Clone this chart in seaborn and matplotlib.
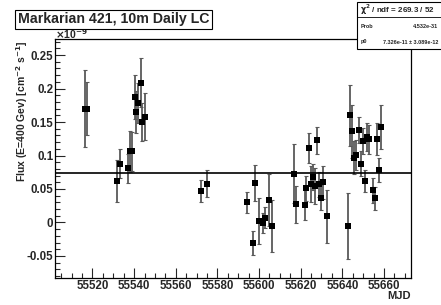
import numpy as np
import pandas as pd
import seaborn as sns
import matplotlib.pyplot as plt
from matplotlib.patches import Rectangle
from matplotlib.ticker import MultipleLocator

# light curve (flux in units of 1e-9 cm^-2 s^-1)
mjd = [55516.4, 55517.2, 55532.0, 55533.1, 55537.1, 55538.1, 55539.0, 55540.2, 55541.1, 55542.1,
       55543.1, 55544.0, 55545.1,
       55572.0, 55575.1,
       55594.0, 55597.0, 55598.0, 55599.9, 55602.0, 55603.0, 55604.9, 55606.0,
       55616.9, 55617.8, 55621.9, 55622.8, 55623.9, 55624.9, 55625.8, 55626.8, 55627.8, 55628.7,
       55629.7, 55630.8, 55632.7,
       55642.8, 55643.8, 55644.7, 55645.7, 55646.7, 55647.8, 55648.8, 55649.7, 55650.9, 55651.8,
       55652.8, 55654.8, 55655.8, 55656.8, 55657.7, 55658.7]
flux = [0.170, 0.170, 0.062, 0.088, 0.081, 0.106, 0.106, 0.187, 0.165, 0.179,
        0.209, 0.150, 0.158,
        0.047, 0.058,
        0.030, -0.031, 0.059, 0.002, -0.001, 0.007, 0.034, -0.005,
        0.073, 0.027, 0.026, 0.051, 0.111, 0.057, 0.068, 0.055, 0.123, 0.057,
        0.037, 0.060, 0.009,
        -0.005, 0.160, 0.136, 0.097, 0.101, 0.138, 0.088, 0.122, 0.062, 0.127,
        0.124, 0.048, 0.036, 0.125, 0.078, 0.142]
err = [0.058, 0.040, 0.031, 0.021, 0.022, 0.030, 0.029, 0.033, 0.031, 0.030,
       0.036, 0.029, 0.035,
       0.017, 0.020,
       0.016, 0.018, 0.027, 0.034, 0.015, 0.016, 0.039, 0.039,
       0.044, 0.028, 0.023, 0.019, 0.022, 0.027, 0.019, 0.027, 0.020, 0.019,
       0.019, 0.025, 0.040,
       0.049, 0.046, 0.039, 0.024, 0.022, 0.019, 0.018, 0.019, 0.017, 0.021,
       0.021, 0.019, 0.017, 0.024, 0.018, 0.033]

p0 = 0.07326  # constant fit

if __name__ == '__main__':
  sns.set_style('white')
  plt.rcParams['font.family'] = ['Liberation Sans', 'DejaVu Sans']
  plt.rcParams['font.weight'] = 'bold'
  plt.rcParams['mathtext.default'] = 'bf'

  data = pd.DataFrame(dict(mjd=mjd, flux=flux, err=err))

  fig = plt.figure(figsize=(4.41, 3.05), dpi=100)
  ax = fig.add_axes([0.1247, 0.0885, 0.8073, 0.7835])

  ax.errorbar(data.mjd, data.flux, yerr=data.err, fmt='none', ecolor='0.35',
              elinewidth=1.3, capsize=1.2, capthick=0.8)
  sns.scatterplot(data=data, x='mjd', y='flux', marker='s', color='black',
                  s=13, linewidth=0, ax=ax, zorder=3)
  ax.axhline(p0, color='black', lw=1.2, zorder=4)

  ax.set_xlim(55502, 55673)
  ax.set_ylim(-0.083, 0.274)
  ax.xaxis.set_major_locator(MultipleLocator(20))
  ax.xaxis.set_minor_locator(MultipleLocator(5))
  ax.yaxis.set_major_locator(MultipleLocator(0.05))
  ax.yaxis.set_minor_locator(MultipleLocator(0.01))
  ax.yaxis.set_major_formatter(plt.FuncFormatter(lambda v, p: ('%g' % round(v, 3))))
  ax.tick_params(which='major', direction='in', length=7, width=0.8, labelsize=8.3,
                 bottom=True, left=True, top=False, right=False, pad=1.2)
  ax.tick_params(which='minor', direction='in', length=3.5, width=0.8,
                 bottom=True, left=True, top=False, right=False)
  for sp in ax.spines.values():
    sp.set_color('black')
    sp.set_linewidth(0.9)
  ax.set_xlabel('')
  ax.set_ylabel('')

  fig.text(411 / 441, 1 - 296 / 305, 'MJD', ha='right', va='center', fontsize=8, fontweight='bold')
  fig.text(22 / 441, 1 - 40 / 305, r'Flux (E=400 Gev) [cm$^{-2}$ s$^{-1}$]', rotation=90,
           ha='center', va='top', fontsize=7.5, fontweight='bold')
  fig.text(55 / 441, 1 - 34 / 305, r'$\times$10$^{-9}$', ha='left', va='center',
           fontsize=7.5, fontweight='bold')

  fig.text(18 / 441, 1 - 19.5 / 305, 'Markarian 421, 10m Daily LC', ha='left', va='center',
           fontsize=10.2, fontweight='bold',
           bbox=dict(boxstyle='square,pad=0.2', fc='white', ec='black', lw=0.8))

  # stats box
  fig.add_artist(Rectangle((357 / 441, 1 - 49 / 305), 0.3, 47 / 305, transform=fig.transFigure,
                           fc='white', ec='black', lw=0.8, zorder=5))
  fig.add_artist(plt.Line2D([357 / 441, 1], [1 - 17 / 305] * 2, transform=fig.transFigure,
                            color='black', lw=0.6, zorder=6))
  fig.text(360 / 441, 1 - 9.5 / 305, r'$\chi^{2}$ / ndf = 269.3 / 52', ha='left', va='center',
           fontsize=5.8, fontweight='bold', zorder=7)
  fig.text(361 / 441, 1 - 27 / 305, 'Prob', ha='left', va='center', fontsize=4, zorder=7)
  fig.text(413 / 441, 1 - 27 / 305, '4.532e-31', ha='left', va='center', fontsize=4, zorder=7)
  fig.text(361 / 441, 1 - 42 / 305, 'p0', ha='left', va='center', fontsize=4, zorder=7)
  fig.text(383 / 441, 1 - 42 / 305, '7.326e-11 \u00b1 3.089e-12', ha='left', va='center',
           fontsize=4, zorder=7)

  fig.savefig('out.png', dpi=100)
